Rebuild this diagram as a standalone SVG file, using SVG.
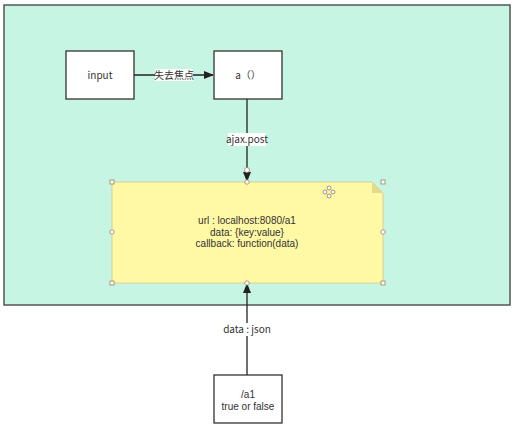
<svg xmlns="http://www.w3.org/2000/svg" width="516" height="439" viewBox="0 0 516 439">
<style>
text{font-family:"Noto Sans CJK SC","Noto Sans",sans-serif;font-size:10px;fill:#333;text-anchor:middle}
.sm{font-family:"Liberation Sans",Arial,sans-serif;font-size:10px}
.box{fill:#fff;stroke:#333;stroke-width:1.3}
.line{stroke:#222;stroke-width:1.3;fill:none}
.lbl{fill:#fff}
.h{fill:#fff;stroke:#a08060;stroke-width:0.8}
</style>
<defs>
<marker id="arr" markerWidth="10" markerHeight="8" refX="9" refY="4" orient="auto" markerUnits="userSpaceOnUse">
<path d="M0,0 L10,4 L0,8 Z" fill="#222"/>
</marker>
</defs>
<rect width="516" height="439" fill="#fff"/>
<g id="container">
<rect x="4" y="5" width="506" height="300" fill="#c6f6e3" stroke="#555" stroke-width="1.5"/>
</g>
<g id="connectors">
<line class="line" x1="134" y1="75" x2="213" y2="75" marker-end="url(#arr)"/>
<rect class="lbl" x="155" y="69" width="38" height="12"/>
<text x="174" y="79">失去焦点</text>
<line class="line" x1="247" y1="99" x2="247" y2="181" marker-end="url(#arr)"/>
<rect class="lbl" x="228" y="133" width="38" height="13"/>
<text x="247" y="143">ajax.post</text>
<circle class="h" cx="247" cy="170" r="2.5"/>
<line class="line" x1="247" y1="375" x2="247" y2="284" marker-end="url(#arr)"/>
<rect class="lbl" x="225" y="323" width="44" height="13"/>
<text x="247" y="333">data : json</text>
</g>
<g id="input">
<rect class="box" x="66" y="51" width="68" height="48"/>
<text x="100" y="79">input</text>
</g>
<g id="a">
<rect class="box" x="214" y="51" width="68" height="48"/>
<text x="248" y="79">a（）</text>
</g>
<g id="note">
<path d="M112,182 H372 L383,193 V283 H112 Z" fill="#fff8a5" stroke="#d8d090" stroke-width="1"/>
<path d="M372,182 L383,193 L372,193 Z" fill="#e3da8a"/>
<text class="sm" x="247" y="224">url : localhost:8080/a1</text>
<text class="sm" x="247" y="235.5">data: {key:value}</text>
<text class="sm" x="247" y="247">callback: function(data)</text>
<g id="handles">
<rect class="h" x="110" y="180" width="4" height="4"/>
<rect class="h" x="381" y="180" width="4" height="4"/>
<rect class="h" x="110" y="281" width="4" height="4"/>
<rect class="h" x="381" y="281" width="4" height="4"/>
<circle class="h" cx="247" cy="182" r="2.2"/>
<circle class="h" cx="247" cy="283" r="2.2"/>
<circle class="h" cx="112" cy="232" r="2.2"/>
<circle class="h" cx="383" cy="232" r="2.2"/>
</g>
<g id="move" stroke="#887766" stroke-width="0.8" fill="#fff">
<circle cx="329" cy="188" r="2"/>
<circle cx="329" cy="196" r="2"/>
<circle cx="325" cy="192" r="2"/>
<circle cx="333" cy="192" r="2"/>
</g>
</g>
<g id="a1">
<rect class="box" x="214" y="375" width="68" height="48"/>
<text class="sm" x="248" y="398">/a1</text>
<text class="sm" x="248" y="410">true or false</text>
</g>
</svg>
